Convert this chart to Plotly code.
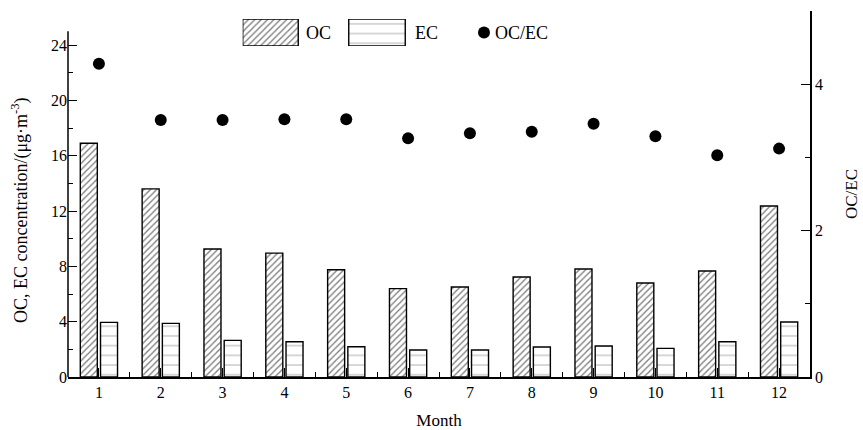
import plotly.graph_objects as go

months = list(range(1, 13))
month_labels = [str(m) for m in months]
oc = [16.9, 13.6, 9.25, 8.96, 7.76, 6.39, 6.51, 7.23, 7.81, 6.80, 7.66, 12.36]
ec = [3.95, 3.88, 2.65, 2.55, 2.19, 1.95, 1.95, 2.17, 2.24, 2.07, 2.55, 3.98]
ratio = [4.28, 3.51, 3.51, 3.52, 3.52, 3.26, 3.33, 3.35, 3.46, 3.29, 3.03, 3.12]

left_ticks = [0, 4, 8, 12, 16, 20, 24]
right_ticks = [0, 2, 4]

FONT = "Liberation Serif, Times New Roman, serif"
BW = 0.275

oc_marker = dict(color="white", line=dict(color="black", width=1.4),
                 pattern=dict(shape="/", fgcolor="black", bgcolor="white", size=4.5, solidity=0.3))
ec_marker = dict(color="white", line=dict(color="black", width=1.4),
                 pattern=dict(shape="-", fgcolor="#888888", bgcolor="white", size=9.7, solidity=0.14))

fig = go.Figure()
fig.add_trace(go.Bar(x=months, y=oc, width=BW, offset=-BW - 0.026, marker=oc_marker,
                     name="OC", showlegend=False))
fig.add_trace(go.Bar(x=months, y=ec, width=BW, offset=0.026, marker=ec_marker,
                     name="EC", showlegend=False))
fig.add_trace(go.Scatter(x=months, y=ratio, mode="markers", yaxis="y2",
                         marker=dict(color="black", size=12), name="OC/EC", showlegend=False))

# custom legend (in its own small axes, pixel-like coordinates)
fig.add_trace(go.Bar(x=[270.5], y=[1], width=[55.5], marker=oc_marker, xaxis="x3", yaxis="y3",
                     showlegend=False, hoverinfo="skip", cliponaxis=False))
fig.add_trace(go.Bar(x=[377], y=[1], width=[56.5], marker=ec_marker, xaxis="x3", yaxis="y3",
                     showlegend=False, hoverinfo="skip", cliponaxis=False))
fig.add_trace(go.Scatter(x=[484], y=[0.5], mode="markers", marker=dict(color="black", size=12),
                         xaxis="x3", yaxis="y3", showlegend=False, hoverinfo="skip", cliponaxis=False))

W, H = 863, 430
ML, MR, MT, MB = 68, 53, 11, 53
pw, ph = W - ML - MR, H - MT - MB

def px_x(p):
    return (p - ML) / pw

def px_y(p):
    return (H - MB - p) / ph

left_top = 25
left_range_max = ph / 13.83

axis_common = dict(showgrid=False, zeroline=False, color="black", automargin=False,
                   tickfont=dict(family=FONT, size=16, color="black"),
                   tickwidth=1.3, tickcolor="black")

fig.update_layout(
    width=W, height=H,
    margin=dict(l=ML, r=MR, t=MT, b=MB, autoexpand=False),
    paper_bgcolor="white", plot_bgcolor="white",
    barmode="overlay",
    font=dict(family=FONT, size=16, color="black"),
    xaxis=dict(range=[0.5, 12.5], tickvals=months, ticktext=month_labels,
               ticks="inside", ticklen=9, showline=True, linecolor="black", linewidth=1.5,
               minor=dict(tickvals=[m + 0.5 for m in range(0, 13)], ticks="inside", ticklen=5,
                          tickcolor="black", tickwidth=1.3),
               title=dict(text="Month", font=dict(family=FONT, size=17), standoff=19),
               **axis_common),
    yaxis=dict(range=[0, left_range_max], tickvals=left_ticks, ticks="inside", ticklen=9,
               showline=False,
               minor=dict(tickvals=[2, 6, 10, 14, 18, 22], ticks="inside", ticklen=5,
                          tickcolor="black", tickwidth=1.3),
               **axis_common),
    yaxis2=dict(overlaying="y", side="right", range=[0, 5], tickvals=right_ticks,
                ticks="inside", ticklen=9, showline=True, linecolor="black", linewidth=1.5,
                minor=dict(tickvals=[1, 3, 5], ticks="inside", ticklen=5,
                           tickcolor="black", tickwidth=1.3),
                title=dict(text="OC/EC", font=dict(family=FONT, size=17), standoff=23),
                **axis_common),
    xaxis3=dict(domain=[px_x(242.7), px_x(567)], range=[242.7, 567], anchor="y3",
                visible=False, fixedrange=True),
    yaxis3=dict(domain=[px_y(46), px_y(19)], range=[0, 1], anchor="x3",
                visible=False, fixedrange=True),
    shapes=[dict(type="line", xref="paper", yref="y", x0=0, x1=0, y0=0, y1=left_top,
                 line=dict(color="black", width=1.5))],
    annotations=[
        dict(text="OC, EC concentration/(μg·m<sup>-3</sup>)", textangle=-90,
             x=px_x(20), y=px_y(210), xref="paper", yref="paper",
             xanchor="center", yanchor="middle", showarrow=False,
             font=dict(family=FONT, size=18)),
        dict(text="OC", x=304, y=0.5, xref="x3", yref="y3", xanchor="left", yanchor="middle",
             showarrow=False, font=dict(family=FONT, size=18)),
        dict(text="EC", x=413, y=0.5, xref="x3", yref="y3", xanchor="left", yanchor="middle",
             showarrow=False, font=dict(family=FONT, size=18)),
        dict(text="OC/EC", x=493, y=0.5, xref="x3", yref="y3", xanchor="left", yanchor="middle",
             showarrow=False, font=dict(family=FONT, size=18)),
    ],
)

fig.write_html("out.html", config={"displayModeBar": False},
               post_script="document.body.style.margin='0';document.body.style.overflow='hidden';")
